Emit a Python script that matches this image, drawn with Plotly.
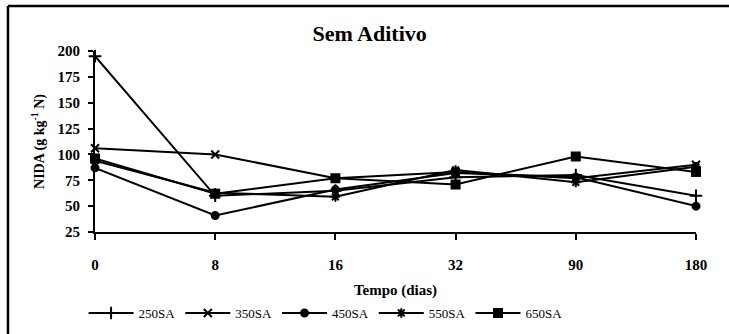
import plotly.graph_objects as go

# Sampling times (days) shown as evenly spaced categories
tempo = ["0", "8", "16", "32", "90", "180"]

# NIDA (g kg-1 N) for each treatment
nida_250sa = [195, 60, 65, 78, 80, 60]
nida_350sa = [106, 100, 77, 83, 77, 90]
nida_450sa = [87, 41, 66, 82, 78, 50]
nida_550sa = [94, 63, 59, 85, 73, 88]
nida_650sa = [96, 62, 77, 71, 98, 83]

y_ticks = [25, 50, 75, 100, 125, 150, 175, 200]

series = [
    ("250SA", nida_250sa, "cross-thin", 9),
    ("350SA", nida_350sa, "x-thin", 8),
    ("450SA", nida_450sa, "circle", 7),
    ("550SA", nida_550sa, "asterisk", 8),
    ("650SA", nida_650sa, "square", 8),
]

SERIF = "Liberation Serif, Times New Roman, serif"

fig = go.Figure()
for name, vals, sym, size in series:
    fig.add_trace(go.Scatter(
        x=list(range(len(tempo))), y=vals, name=name, mode="lines+markers",
        line=dict(color="black", width=2),
        marker=dict(symbol=sym, size=size, color="black",
                    line=dict(color="black", width=2)),
        cliponaxis=False,
    ))

# Frame: only the top and left edges fall inside the page
frame = [
    dict(type="line", xref="paper", yref="paper",
         x0=-0.1448, x1=1.055, y0=1.2486, y1=1.2486,
         line=dict(color="black", width=2.5), layer="above"),
    dict(type="line", xref="paper", yref="paper",
         x0=-0.1448, x1=-0.1448, y0=1.2486, y1=-0.563,
         line=dict(color="black", width=2.5), layer="above"),
]

fig.update_layout(
    width=729, height=334,
    margin=dict(l=95, r=33, t=51, b=102, autoexpand=False),
    paper_bgcolor="white", plot_bgcolor="white",
    font=dict(family=SERIF, color="black"),
    title=dict(text="<b>Sem Aditivo</b>", x=0.507, xanchor="center",
               y=0.9, yanchor="middle", yref="container",
               font=dict(family=SERIF, size=22, color="black")),
    showlegend=True,
    legend=dict(orientation="h", x=-0.019, xanchor="left",
                y=-0.4475, yanchor="middle",
                font=dict(family=SERIF, size=13, color="black"),
                itemwidth=45, tracegroupgap=0, bgcolor="rgba(0,0,0,0)"),
    shapes=frame,
)

fig.update_xaxes(
    range=[0, 5], tickmode="array", tickvals=list(range(len(tempo))),
    ticktext=[f"<b>{t}</b>" for t in tempo], automargin=False,
    showline=True, linecolor="black", linewidth=2,
    ticks="outside", ticklen=6, tickwidth=2, tickcolor="black",
    showgrid=False, zeroline=False, ticklabelstandoff=12,
    tickfont=dict(family=SERIF, size=15, color="black"),
    title=dict(text="<b>Tempo (dias)</b>", standoff=12,
               font=dict(family=SERIF, size=15, color="black")),
)
fig.update_yaxes(
    range=[25, 200], tickmode="array", tickvals=y_ticks,
    ticktext=[f"<b>{v}</b>" for v in y_ticks], automargin=False,
    showline=True, linecolor="black", linewidth=2,
    ticks="outside", ticklen=5, tickwidth=2, tickcolor="black",
    showgrid=False, zeroline=False, ticklabelstandoff=5,
    tickfont=dict(family=SERIF, size=15, color="black"),
    title=dict(text="<b>NIDA (g kg<sup>-1</sup> N)</b>", standoff=10,
               font=dict(family=SERIF, size=14, color="black")),
)

fig.write_html("out.html")
